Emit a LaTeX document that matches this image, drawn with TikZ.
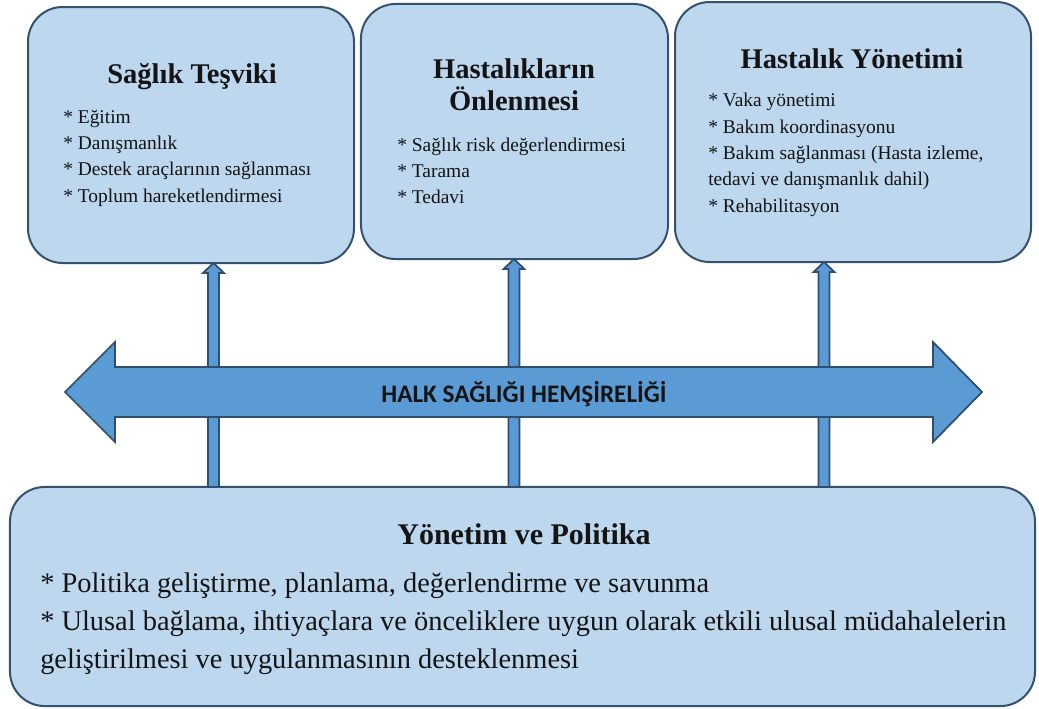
\documentclass[tikz,border=0pt]{standalone}
\usepackage{fontspec}
\setmainfont{Liberation Serif}
\newfontfamily\labelfont{Carlito}
\usetikzlibrary{calc}

\definecolor{boxfill}{HTML}{BDD7EE}
\definecolor{boxline}{HTML}{34526F}
\definecolor{arrowfill}{HTML}{5B9BD5}
\definecolor{arrowline}{HTML}{2F4D6C}
\definecolor{inktext}{HTML}{141414}

% draws an outlined block arrow pointing up, from coordinate #1 to coordinate #2
\newcommand\blockup[2]{%
  \draw[vblock] ($(#1)+(-5.5,0)$) -- ($(#2)+(-5.5,10)$) -- ($(#2)+(-10.5,10)$)
    -- (#2) -- ($(#2)+(10.5,10)$) -- ($(#2)+(5.5,10)$) -- ($(#1)+(5.5,0)$) -- cycle;}

\begin{document}
\begin{tikzpicture}[x=0.75pt,y=-0.75pt,
  panel/.style={draw=boxline,fill=boxfill,line width=1.5pt,rounded corners=26pt,
    inner sep=0pt,outer sep=0pt},
  vblock/.style={draw=arrowline,fill=arrowfill,line width=1.3pt,line join=miter},
  hblock/.style={draw=arrowline,fill=arrowfill,line width=1.3pt,line join=miter},
  title/.style={font=\bfseries\fontsize{21.4pt}{24pt}\selectfont,text=inktext,
    inner sep=0pt,anchor=base,align=center},
  items/.style={font=\fontsize{14.6pt}{19.7pt}\selectfont,text=inktext,
    inner sep=0pt,anchor=base west,align=left},
  bigtitle/.style={font=\bfseries\fontsize{22.5pt}{26pt}\selectfont,text=inktext,
    inner sep=0pt,anchor=base},
  bigitems/.style={font=\fontsize{21.3pt}{28.5pt}\selectfont,text=inktext,
    inner sep=0pt,anchor=base west,align=left},
]
\useasboundingbox (0,0) rectangle (1039,708);

% panels
\node[panel,minimum width=244.5pt,minimum height=192pt] (b1) at (191,135) {};
\node[panel,minimum width=230.3pt,minimum height=191.3pt] (b2) at (514.5,131.5) {};
\node[panel,minimum width=267pt,minimum height=195pt] (b3) at (853,132) {};
\node[panel,minimum width=768.8pt,minimum height=164.3pt] (bot) at (522.5,596.5) {};

% upward block arrows between the base panel and the three upper panels
\coordinate (u1) at ($(b1.south)+(22.5,0)$);
\coordinate (u2) at ($(b2.south)+(-0.5,0)$);
\coordinate (u3) at ($(b3.south)+(-29,0)$);
\coordinate (d1) at (bot.north -| u1);
\coordinate (d2) at (bot.north -| u2);
\coordinate (d3) at (bot.north -| u3);
\blockup{d1}{u1}
\blockup{d2}{u2}
\blockup{d3}{u3}

% horizontal double block arrow
\draw[hblock] (65,392) -- (115,342) -- (115,367) -- (933,367) -- (933,342)
  -- (982,392) -- (933,442) -- (933,417) -- (115,417) -- (115,442) -- cycle;
\node[font=\labelfont\bfseries\fontsize{18.9pt}{22pt}\selectfont,text=inktext,inner sep=0pt]
  (halk) at (524,394) {HALK SAĞLIĞI HEMŞİRELİĞİ};

% panel texts (multi-line nodes are placed by the baseline of their last line)
\node[title] (t1) at (192,83) {Sağlık Teşviki};
\node[items] (i1) at (63,202) {* Eğitim\\* Danışmanlık\\* Destek araçlarının sağlanması\\* Toplum hareketlendirmesi};

\node[title] (t2) at (514,110) {Hastalıkların\\Önlenmesi};
\node[items,font=\fontsize{14.6pt}{19.2pt}\selectfont] (i2) at (397,203) {* Sağlık risk değerlendirmesi\\* Tarama\\* Tedavi};

\node[title] (t3) at (852,68) {Hastalık Yönetimi};
\node[items] (i3) at (708,212) {* Vaka yönetimi\\* Bakım koordinasyonu\\* Bakım sağlanması (Hasta izleme,\\tedavi ve danışmanlık dahil)\\* Rehabilitasyon};

\node[bigtitle] (t4) at (524,544) {Yönetim ve Politika};
\node[bigitems] (i4) at (40,668) {* Politika geliştirme, planlama, değerlendirme ve savunma\\* Ulusal bağlama, ihtiyaçlara ve önceliklere uygun olarak etkili ulusal müdahalelerin\\geliştirilmesi ve uygulanmasının desteklenmesi};
\end{tikzpicture}
\end{document}
